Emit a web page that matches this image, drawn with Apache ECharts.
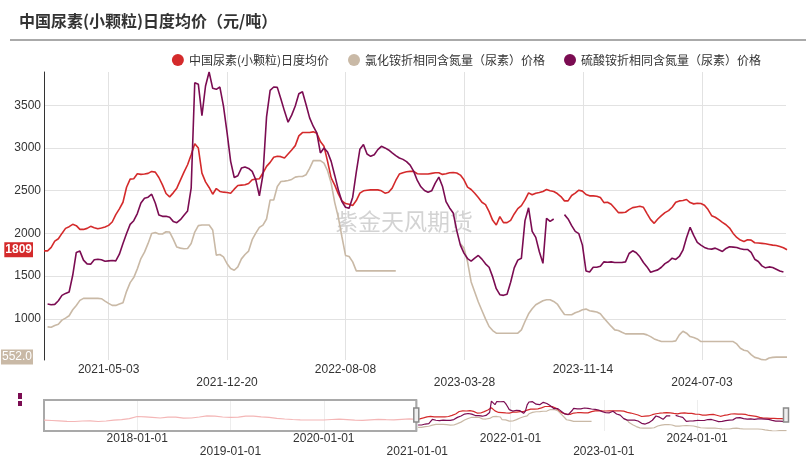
<!DOCTYPE html>
<html><head><meta charset="utf-8">
<script src="https://cdn.jsdelivr.net/npm/echarts@6/dist/echarts.min.js"></script>
<style>html,body{margin:0;padding:0;background:#fff}#c{width:806px;height:460px}</style>
</head><body><div id="c"></div>
<script>
// ---------- data ----------
const titleText = '中国尿素(小颗粒)日度均价（元/吨）';
const seriesNames = ['中国尿素(小颗粒)日度均价', '氯化铵折相同含氮量（尿素）价格', '硫酸铵折相同含氮量（尿素）价格'];
const xTickLabels = ['2021-05-03', '2021-12-20', '2022-08-08', '2023-03-28', '2023-11-14', '2024-07-03'];
const navTickLabels = ['2018-01-01', '2019-01-01', '2020-01-01', '2021-01-01', '2022-01-01', '2023-01-01', '2024-01-01'];
const yTickValues = [1000, 1500, 2000, 2500, 3000, 3500];
const firstWeek = '2020-12-28';     // weekly samples start here
const mainEnd = '2024-12-14';
const navStart = '2017-01-01';

// weekly values (one per week from 2020-12-28)
const red = [
1796,1796,1836,1910,1938,2000,2059,2079,2106,2091,
2047,2047,2059,2083,2067,2055,2063,2075,2094,2134,
2220,2287,2365,2540,2636,2640,2699,2691,2695,2703,
2726,2718,2655,2569,2467,2428,2475,2530,2624,2718,
2804,2922,3051,3000,2706,2604,2538,2459,2526,2491,
2483,2479,2471,2518,2561,2565,2569,2585,2628,2636,
2640,2707,2785,2832,2891,2903,2899,2883,2930,2977,
3028,3142,3181,3181,3181,3189,3173,3075,3020,2844,
2651,2565,2463,2381,2350,2342,2326,2385,2471,2499,
2506,2510,2510,2510,2499,2471,2483,2530,2620,2695,
2710,2722,2726,2726,2699,2695,2695,2695,2703,2710,
2710,2691,2699,2710,2714,2707,2683,2628,2542,2514,
2471,2420,2365,2338,2255,2153,2098,2197,2126,2126,
2153,2228,2291,2326,2392,2475,2452,2471,2479,2491,
2514,2499,2491,2467,2432,2381,2381,2444,2471,2506,
2495,2456,2440,2440,2436,2420,2361,2365,2342,2295,
2244,2244,2248,2279,2302,2310,2318,2306,2232,2161,
2118,2169,2208,2244,2267,2306,2365,2381,2385,2397,
2361,2346,2353,2350,2330,2279,2208,2189,2161,2130,
2102,2063,2000,1953,1922,1906,1926,1922,1891,1887,
1883,1879,1871,1863,1859,1848,1832,1809
];
const beige = [
'-',906,902,922,937,985,1008,1036,1106,1157,
1216,1240,1240,1240,1240,1240,1236,1208,1181,1157,
1157,1173,1189,1322,1424,1483,1585,1706,1781,1883,
2000,2012,1993,1993,2020,2016,1934,1840,1828,1820,
1824,1883,2016,2091,2098,2098,2098,2040,1746,1753,
1726,1645,1589,1569,1608,1702,1753,1793,1926,2004,
2071,2098,2169,2392,2392,2549,2608,2612,2620,2632,
2659,2667,2667,2687,2761,2852,2852,2852,2824,2734,
2589,2361,2189,1961,1742,1730,1667,1561,1561,1561,
1561,1561,1561,1561,1561,1561,1561,1561,1561,'-',
'-','-','-','-','-','-','-','-','-','-',
'-','-','-','-','-','-',1880,1830,1667,1432,
1314,1197,1098,1000,910,863,832,832,832,832,
832,832,832,871,969,1059,1118,1165,1189,1212,
1224,1224,1204,1173,1110,1051,1047,1047,1071,1087,
1106,1114,1094,1087,1079,1059,1008,961,914,871,
863,843,824,824,824,824,824,824,812,792,
765,749,734,734,734,734,742,812,855,832,
792,781,765,734,734,734,734,734,734,734,
734,734,734,706,655,632,624,581,549,538,
522,518,541,549,552,552,552,552
];
const purple = [
'-',1173,1165,1169,1212,1275,1298,1314,1510,1777,
1793,1687,1643,1640,1691,1698,1691,1675,1679,1683,
1679,1757,1883,2000,2106,2149,2232,2357,2412,2424,
2459,2357,2216,2200,2200,2189,2141,2126,2161,2212,
2263,2530,3765,3746,3380,3726,3890,3699,3687,3714,
3491,3180,2844,2655,2675,2765,2777,2761,2726,2628,
2440,2687,3365,3675,3714,3710,3573,3432,3302,3385,
3491,3636,3659,3510,3353,3255,3177,2942,3001,2953,
2844,2679,2510,2373,2306,2295,2424,2718,2985,3040,
2930,2903,2922,2981,3020,3001,2977,2942,2910,2883,
2867,2840,2800,2726,2620,2546,2502,2483,2499,2589,
2659,2553,2373,2298,2240,2032,1863,1769,1706,1675,
1710,1742,1699,1644,1604,1491,1353,1283,1275,1287,
1428,1596,1687,1710,2150,2300,2024,1954,1785,1650,
2177,2141,2169,'-','-',2220,2169,2091,2024,1997,
1863,1561,1549,1604,1604,1616,1667,1663,1667,1659,
1659,1659,1667,1765,1797,1773,1726,1659,1608,1545,
1561,1573,1604,1647,1671,1710,1695,1730,1804,1950,
2071,1977,1895,1863,1836,1820,1816,1828,1808,1789,
1824,1844,1840,1836,1820,1812,1812,1777,1698,1671,
1620,1597,1608,1600,1581,1561,1549
];
// monthly values of the urea price before 2021 (navigator only), 2017-01 .. 2020-12
const redEarly = [
1698,1662,1625,1571,1553,1607,1625,1553,1607,1698,1752,1861,
2097,2061,2006,1934,2024,2024,1916,1934,2043,2170,2133,2043,
2006,2024,2133,2133,2061,2006,1897,1825,1770,1734,1716,1716,
1716,1770,1807,1752,1698,1680,1734,1789,1752,1734,1789,1843
];

// ---------- helpers ----------
function pad(n) { return n < 10 ? '0' + n : '' + n; }
function fmt(d) { return d.getFullYear() + '-' + pad(d.getMonth() + 1) + '-' + pad(d.getDate()); }
function ts(s) { const p = s.split('-'); return new Date(+p[0], +p[1] - 1, +p[2]).getTime(); }
const w0 = firstWeek.split('-').map(Number);
const weekDates = red.map((_, i) => new Date(w0[0], w0[1] - 1, w0[2] + 7 * i).getTime());
const monthDates = redEarly.map((_, i) => new Date(2017, i, 1).getTime());
const pair = arr => arr.map((v, i) => [weekDates[i], v]);
function altLabel(list) {
  return function (value) {
    const s = fmt(new Date(value));
    const i = list.indexOf(s);
    return i % 2 === 1 ? '\n' + s : s;
  };
}

const C = { red: '#d42a2b', beige: '#c9b9a6', purple: '#7b0c52', pale: '#f4b6b6' };
const numFont = "'Liberation Sans', Arial, sans-serif";
const cjkFont = "'Noto Sans CJK SC', sans-serif";

function mainLine(idx, arr, color, mark) {
  const s = {
    name: seriesNames[idx], type: 'line', xAxisIndex: 0, yAxisIndex: 0,
    data: pair(arr), showSymbol: false, symbol: 'none',
    lineStyle: { width: 1.6, color: color }, itemStyle: { color: color },
    emphasis: { disabled: true }, connectNulls: false
  };
  if (mark) {
    const last = arr[arr.length - 1];
    s.markLine = {
      silent: true, symbol: 'none', animation: false,
      lineStyle: { color: 'rgba(0,0,0,0)', width: 1, type: 'solid' },
      label: {
        show: true, position: 'start', distance: 11, formatter: () => mark.fmt(last),
        backgroundColor: color, color: '#fff', fontSize: 12, fontWeight: mark.bold ? 'bold' : 'normal',
        fontFamily: numFont, padding: [1, 1], lineHeight: 13, opacity: 1
      },
      emphasis: { disabled: true },
      data: [{ yAxis: last }]
    };
  }
  return s;
}
function navLine(name, data, color) {
  return {
    name: name, type: 'line', xAxisIndex: 1, yAxisIndex: 1, data: data,
    showSymbol: false, symbol: 'none', silent: true,
    lineStyle: { width: 1.2, color: color }, itemStyle: { color: color },
    emphasis: { disabled: true }
  };
}

const navRedEarly = navLine(seriesNames[0], monthDates.map((d, i) => [d, redEarly[i]]).concat([[weekDates[0], red[0]]]), C.pale);
navRedEarly.markArea = {
  silent: true,
  itemStyle: { color: 'rgba(0,0,0,0)', borderColor: '#a9a9a9', borderWidth: 2 },
  data: [[{ xAxis: ts(navStart) }, { xAxis: ts(firstWeek) }]]
};

const option = {
  animation: false,
  backgroundColor: '#fff',
  title: {
    text: titleText, left: 19, top: 13, padding: 0,
    textStyle: { fontSize: 16, fontWeight: 'bold', color: '#333', fontFamily: cjkFont }
  },
  legend: {
    data: seriesNames, right: 40, top: 49, icon: 'circle', itemWidth: 12, itemHeight: 12, itemGap: 19,
    textStyle: { fontSize: 12, color: '#333', fontFamily: cjkFont }
  },
  grid: [
    { left: 44, right: 20, top: 72, bottom: 100 },
    { left: 44, right: 20, top: 400, height: 31 }
  ],
  xAxis: [
    {
      type: 'value', gridIndex: 0, min: ts(firstWeek), max: ts(mainEnd), scale: true,
      axisLine: { show: false },
      axisTick: { show: false, customValues: xTickLabels.map(ts) },
      axisLabel: { customValues: xTickLabels.map(ts), formatter: altLabel(xTickLabels), color: '#333', fontSize: 12, margin: 3, lineHeight: 13, fontFamily: numFont },
      splitLine: { show: true, lineStyle: { color: '#e2e2e2', width: 1 } }
    },
    {
      type: 'value', gridIndex: 1, min: ts(navStart), max: ts(mainEnd), scale: true,
      axisLine: { show: false },
      axisTick: { show: false, customValues: navTickLabels.map(ts) },
      axisLabel: { customValues: navTickLabels.map(ts), formatter: altLabel(navTickLabels), color: '#333', fontSize: 12, margin: 1, lineHeight: 13, fontFamily: numFont },
      splitLine: { show: true, lineStyle: { color: '#ededed', width: 1 } }
    }
  ],
  yAxis: [
    {
      type: 'value', gridIndex: 0, min: 'dataMin', max: 'dataMax',
      axisLine: { show: true, lineStyle: { color: '#333', width: 1 } },
      axisTick: { show: false, customValues: yTickValues },
      axisLabel: { customValues: yTickValues, formatter: v => String(v), color: '#333', fontSize: 12, margin: 3, fontFamily: numFont },
      splitLine: { show: true, lineStyle: { color: '#e2e2e2', width: 1 } }
    },
    { type: 'value', gridIndex: 1, min: 'dataMin', max: 'dataMax', show: false, splitLine: { show: false } }
  ],
  series: [
    mainLine(0, red, C.red, { fmt: v => String(v), bold: true }),
    mainLine(1, beige, C.beige, { fmt: v => v.toFixed(1), bold: false }),
    mainLine(2, purple, C.purple, null),
    navRedEarly,
    navLine(seriesNames[0], pair(red), C.red),
    navLine(seriesNames[1], pair(beige), C.beige),
    navLine(seriesNames[2], pair(purple), C.purple)
  ]
};

const chart = echarts.init(document.getElementById('c'), null, { renderer: 'canvas' });
chart.setOption(option);

const xL = chart.convertToPixel({ xAxisIndex: 1 }, ts(firstWeek));
const xR = chart.convertToPixel({ xAxisIndex: 1 }, ts(mainEnd));
chart.setOption({
  graphic: [
    { type: 'line', shape: { x1: 10, y1: 40, x2: 806, y2: 40 }, style: { stroke: '#aaaaaa', lineWidth: 2 }, silent: true },
    { type: 'text', x: 335, y: 210, z: 1, silent: true, style: { text: '紫金天风期货', font: "23px 'Noto Sans CJK SC'", fill: '#d3d3d3' } },
    { type: 'rect', shape: { x: 18, y: 393, width: 4, height: 6 }, style: { fill: C.purple }, silent: true },
    { type: 'rect', shape: { x: 18, y: 401, width: 4, height: 5 }, style: { fill: C.purple }, silent: true },
    { type: 'rect', z: 100, shape: { x: xL - 2.5, y: 408, width: 5, height: 14 }, style: { fill: '#eeeeee', stroke: '#8a8a8a', lineWidth: 1.5 }, silent: true },
    { type: 'rect', z: 100, shape: { x: xR - 2.5, y: 408, width: 5, height: 14 }, style: { fill: '#eeeeee', stroke: '#8a8a8a', lineWidth: 1.5 }, silent: true }
  ]
});
</script>
</body></html>
